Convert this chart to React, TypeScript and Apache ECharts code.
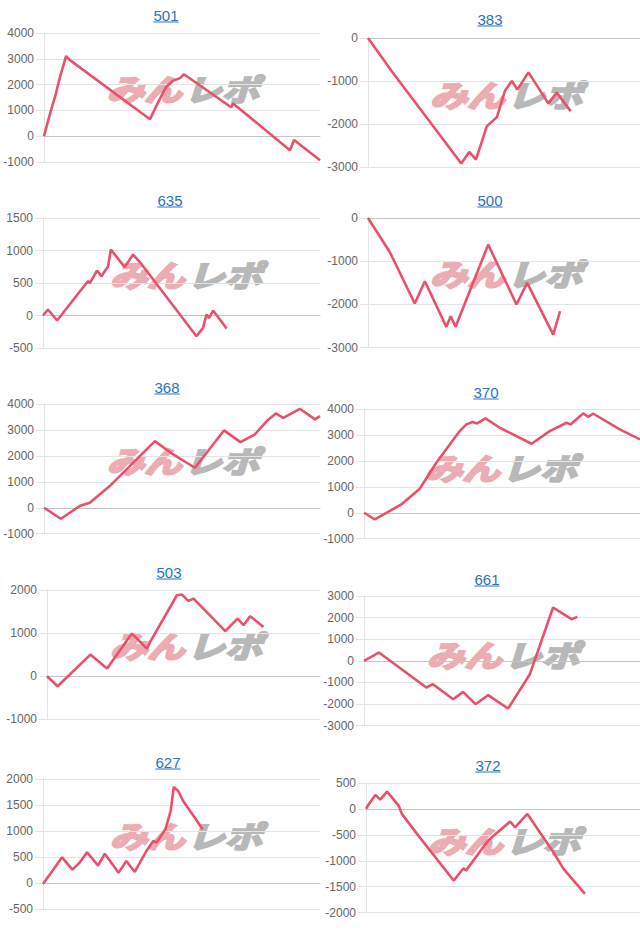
import React, { useEffect, useRef } from 'react';
import * as echarts from 'echarts';

// ---- data ----
const titles = ['501', '383', '635', '500', '368', '370', '503', '661', '627', '372'];

const x501 = [0, 2.2, 4, 5.8, 8, 9.4, 38.4, 41.3, 44.2, 46.7, 49.3, 50.7, 67.8, 68.5, 89.1, 90.6, 100];
const y501 = [0, 880, 1520, 2300, 3100, 2950, 660, 1300, 1900, 2150, 2250, 2400, 1120, 1270, -540, -150, -930];

const x383 = [0, 8.8, 34.3, 37.2, 39.7, 43.7, 47.4, 50.4, 52.9, 54.9, 59.0, 66.3, 69.4, 74.5];
const y383 = [0, -780, -2920, -2650, -2830, -2050, -1840, -1220, -1000, -1200, -800, -1520, -1270, -1700];

const x635 = [0, 1.8, 5.1, 15.7, 16.3, 16.9, 19.5, 21.1, 23.5, 24.5, 29.5, 32.5, 34.9, 55.4, 57.8, 59.0, 60.0, 61.4, 66.3];
const y635 = [0, 92, -77, 500, 528, 497, 692, 605, 759, 1015, 744, 938, 826, -318, -190, 15, -36, 77, -200];

const x500 = [0, 8.0, 17.2, 20.9, 28.8, 30.4, 32.2, 44.2, 54.6, 58.5, 68.1, 70.6];
const y500 = [0, -787, -1982, -1465, -2521, -2275, -2521, -617, -2005, -1504, -2700, -2160];

const x368 = [0, 6.1, 12.9, 16.6, 23.8, 40.2, 46.8, 54.7, 65.2, 71.2, 76.4, 80.7, 84.0, 86.7, 92.7, 98.2, 100];
const y368 = [0, -424, 64, 193, 835, 2570, 2056, 1542, 2981, 2532, 2827, 3341, 3636, 3469, 3816, 3405, 3533];

const x370 = [0, 3.9, 13.5, 20.2, 26.2, 34.7, 37.1, 39.3, 41.0, 44.0, 49.2, 60.7, 67.3, 73.4, 74.8, 79.4, 81.2, 83.1, 92.7, 100];
const y370 = [0, -257, 321, 925, 1928, 3149, 3406, 3496, 3444, 3637, 3277, 2660, 3149, 3470, 3406, 3830, 3701, 3817, 3213, 2827];

const x503 = [0, 3.9, 15.9, 22.0, 31.1, 36.6, 37.8, 47.6, 49.4, 51.8, 53.7, 65.3, 69.8, 72.0, 74.4, 79.3];
const y503 = [0, -232, 502, 178, 989, 641, 796, 1878, 1894, 1747, 1801, 1044, 1337, 1183, 1391, 1144];

const x661 = [0, 5.4, 22.6, 25.0, 32.3, 35.9, 40.4, 45.0, 52.2, 60.1, 68.5, 71.0, 75.2, 77.3];
const y661 = [0, 385, -1234, -1079, -1773, -1434, -2005, -1588, -2205, -617, 2467, 2267, 1928, 2035];

const x627 = [0, 6.9, 10.6, 13.3, 15.9, 19.9, 22.3, 27.3, 30.1, 33.1, 37.3, 39.8, 41.0, 44.2, 46.1, 47.2, 48.8, 50.6, 54.8, 57.6];
const y627 = [-20, 494, 256, 397, 590, 333, 564, 199, 423, 212, 615, 808, 776, 1032, 1385, 1846, 1769, 1577, 1256, 1032];

const x372 = [0, 0.7, 3.4, 5.2, 7.7, 11.9, 13.1, 18.6, 32.0, 35.6, 36.5, 44.1, 45.9, 52.6, 54.4, 58.9, 68.4, 72.1, 79.9];
const y372 = [0, 64, 270, 180, 334, 64, -96, -482, -1382, -1145, -1190, -643, -547, -244, -354, -96, -836, -1157, -1640];

const xsAll = [x501, x383, x635, x500, x368, x370, x503, x661, x627, x372];
const ysAll = [y501, y383, y635, y500, y368, y370, y503, y661, y627, y372];

const yMins = [-1000, -3000, -500, -3000, -1000, -1000, -1000, -3000, -500, -2000];
const yMaxs = [4000, 0, 1500, 0, 4000, 4000, 2000, 3000, 2000, 500];
const yIntervals = [1000, 1000, 500, 1000, 1000, 1000, 1000, 1000, 500, 500];

// ---- layout (pixels) ----
const layout = [
  { left: 44, top: 33, width: 276, height: 129, tx: 166, ty: 15, wx: 183, wy: 88 },
  { left: 368, top: 38, width: 272, height: 129, tx: 490, ty: 19, wx: 506, wy: 94 },
  { left: 43, top: 218, width: 277, height: 130, tx: 170, ty: 200, wx: 186, wy: 274 },
  { left: 368, top: 218, width: 272, height: 129.5, tx: 490, ty: 200, wx: 506, wy: 273 },
  { left: 44, top: 404, width: 276, height: 129.7, tx: 167, ty: 387, wx: 183, wy: 460 },
  { left: 364, top: 409, width: 276, height: 129.7, tx: 486, ty: 392, wx: 501, wy: 467 },
  { left: 47, top: 590, width: 273, height: 129.3, tx: 169, ty: 572, wx: 186, wy: 645 },
  { left: 364, top: 596, width: 276, height: 129.7, tx: 487, ty: 579, wx: 503, wy: 654 },
  { left: 43, top: 779, width: 277, height: 130, tx: 168, ty: 762, wx: 186, wy: 835 },
  { left: 366, top: 783, width: 274, height: 129.6, tx: 488, ty: 765, wx: 504, wy: 840 },
];

const LINE_COLOR = '#ea506b';
const GRID_COLOR = '#e4e4e4';
const TITLE_COLOR = '#2a72c4';
const FONT = '"Liberation Sans", Arial, sans-serif';
const CJK = '"Noto Sans CJK JP", sans-serif';

export default function App() {
  const ref = useRef<HTMLDivElement>(null);

  useEffect(() => {
    if (!ref.current) return;
    const chart = echarts.init(ref.current, null, { renderer: 'svg' });

    const grids = layout.map((l) => ({ left: l.left, top: l.top, width: l.width, height: l.height }));
    const xAxes = layout.map((_, i) => ({
      type: 'value',
      gridIndex: i,
      min: 0,
      max: 100,
      axisLabel: { show: false },
      axisTick: { show: false },
      splitLine: { show: false },
      axisLine: { show: true, onZero: true, lineStyle: { color: '#c6c6c6', width: 1 } },
    }));
    const yAxes = layout.map((_, i) => ({
      type: 'value',
      gridIndex: i,
      min: yMins[i],
      max: yMaxs[i],
      interval: yIntervals[i],
      axisLine: { show: true, lineStyle: { color: GRID_COLOR } },
      axisTick: { show: true, length: 8, lineStyle: { color: GRID_COLOR } },
      splitLine: { show: true, lineStyle: { color: GRID_COLOR } },
      axisLabel: {
        color: '#666',
        fontSize: 12,
        fontFamily: FONT,
        margin: 10,
        formatter: (v: number) => String(v),
      },
    }));
    const series = layout.map((_, i) => ({
      type: 'line',
      xAxisIndex: i,
      yAxisIndex: i,
      data: xsAll[i].map((x, j) => [x, ysAll[i][j]]),
      showSymbol: false,
      symbol: 'none',
      lineStyle: { color: LINE_COLOR, width: 2.6 },
      z: 5,
      silent: true,
    }));

    const wmStyle = (text: string, fill: string, align: string) => ({
      text,
      fill,
      stroke: fill,
      lineWidth: 2.2,
      fontSize: 30,
      fontWeight: 'bold',
      fontStyle: 'italic',
      fontFamily: CJK,
      align,
      verticalAlign: 'middle',
      textAlign: align,
      textVerticalAlign: 'middle',
    });

    const graphics: any[] = [];
    layout.forEach((l, i) => {
      const w = titles[i].length * 8.4;
      graphics.push({
        type: 'text',
        x: l.tx,
        y: l.ty,
        z: 10,
        style: {
          text: titles[i],
          fill: TITLE_COLOR,
          fontSize: 15,
          fontFamily: FONT,
          align: 'center',
          verticalAlign: 'middle',
          textAlign: 'center',
          textVerticalAlign: 'middle',
        },
      });
      graphics.push({
        type: 'line',
        z: 10,
        shape: { x1: l.tx - w / 2, y1: l.ty + 7, x2: l.tx + w / 2, y2: l.ty + 7 },
        style: { stroke: TITLE_COLOR, lineWidth: 1 },
      });
      graphics.push({
        type: 'group',
        x: l.wx,
        y: l.wy,
        scaleX: 1.25,
        z: 0,
        children: [
          { type: 'text', x: -1, y: 0, z: 0, style: wmStyle('みん', '#ebadb2', 'right') },
          { type: 'text', x: 1, y: 0, z: 0, style: wmStyle('レポ', '#b8b8b8', 'left') },
        ],
      });
    });

    chart.setOption({
      animation: false,
      backgroundColor: '#ffffff',
      grid: grids,
      xAxis: xAxes,
      yAxis: yAxes,
      series,
      graphic: { elements: graphics },
    } as any);

    return () => chart.dispose();
  }, []);

  return (
    <div
      ref={ref}
      style={{ position: 'absolute', left: 0, top: 0, width: 640, height: 931, background: '#fff' }}
    />
  );
}
